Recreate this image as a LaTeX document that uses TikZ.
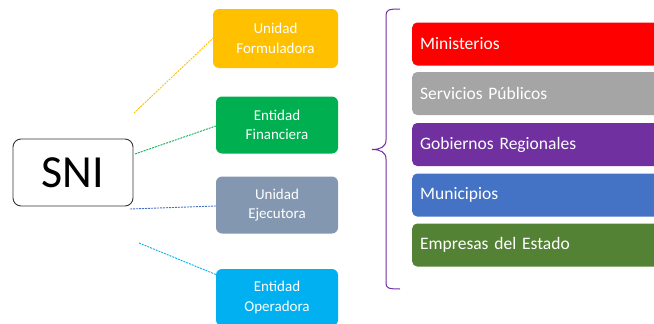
\documentclass[tikz,border=0pt]{standalone}
\usepackage{fontspec}
\setmainfont{Carlito}
\usetikzlibrary{calc}
\definecolor{cyel}{HTML}{FFC000}
\definecolor{cgrn}{HTML}{00B050}
\definecolor{cgbl}{HTML}{8497B0}
\definecolor{ccya}{HTML}{00B0F0}
\definecolor{cred}{HTML}{FF0000}
\definecolor{cgry}{HTML}{A5A5A5}
\definecolor{cpur}{HTML}{7030A0}
\definecolor{cblu}{HTML}{4472C4}
\definecolor{cdgr}{HTML}{548235}
\tikzset{
  unitbox/.style={rounded corners=6pt, minimum width=122pt, minimum height=57pt, text=white,
    align=center, font=\fontsize{15}{19.5}\selectfont, inner sep=0pt},
  barbox/.style={rounded corners=5pt, minimum width=250pt, minimum height=43pt, text=white,
    anchor=west, align=left, text width=238pt, inner xsep=8pt, inner ysep=0pt,
    font=\fontsize{17.5}{20}\selectfont},
  link/.style={dashed, dash pattern=on 2pt off 1pt, line width=0.9pt}
}
\begin{document}
\begin{tikzpicture}[x=1pt,y=-1pt]
\useasboundingbox (0,0) rectangle (654,324);
\node[draw=black!80, line width=0.9pt, rounded corners=8pt, minimum width=120pt, minimum height=67pt,
  inner sep=0pt, font=\fontsize{46}{50}\selectfont] (sni) at (73,172.5) {SNI};
\node[unitbox, fill=cyel, minimum width=125pt, minimum height=59pt] (uf) at (275.5,38.5) {Unidad\\Formuladora};
\node[unitbox, fill=cgrn] (ef) at (277,125) {Entidad\\Financiera};
\node[unitbox, fill=cgbl] (ue) at (277,205) {Unidad\\Ejecutora};
\node[unitbox, fill=ccya] (eo) at (277,297.5) {Entidad\\Operadora};
\coordinate (a1) at (134,113);
\coordinate (a2) at (135,154);
\coordinate (a3) at (130,209);
\coordinate (a4) at (139,243);
\draw[link, cyel] (a1) -- (uf.west);
\draw[link, cgrn] (a2) -- ($(ef.west)+(0,1)$);
\draw[link, cblu] (a3) -- ($(ue.west)+(0,1)$);
\draw[link, ccya] (a4) -- ($(eo.west)+(0,-23)$);
\node[barbox, fill=cred] (m1) at (412,44) {Ministerios};
\node[barbox, fill=cgry] (m2) at (412,93.5) {Servicios Públicos};
\node[barbox, fill=cpur] (m3) at (412,144.5) {Gobiernos Regionales};
\node[barbox, fill=cblu] (m4) at (412,195) {Municipios};
\node[barbox, fill=cdgr] (m5) at (412,245) {Empresas del Estado};
\coordinate (bt) at (400,9);
\coordinate (bb) at (400,289);
\coordinate (bm) at (372,149.5);
\draw[cpur, line width=1pt] (bt) .. controls (388,9) and (386,10) .. (386,16) -- (386,140)
  .. controls (386,147) and (380,149.5) .. (bm)
  .. controls (380,149.5) and (386,152) .. (386,159) -- (386,283)
  .. controls (386,288) and (388,289) .. (bb);
\end{tikzpicture}
\end{document}
